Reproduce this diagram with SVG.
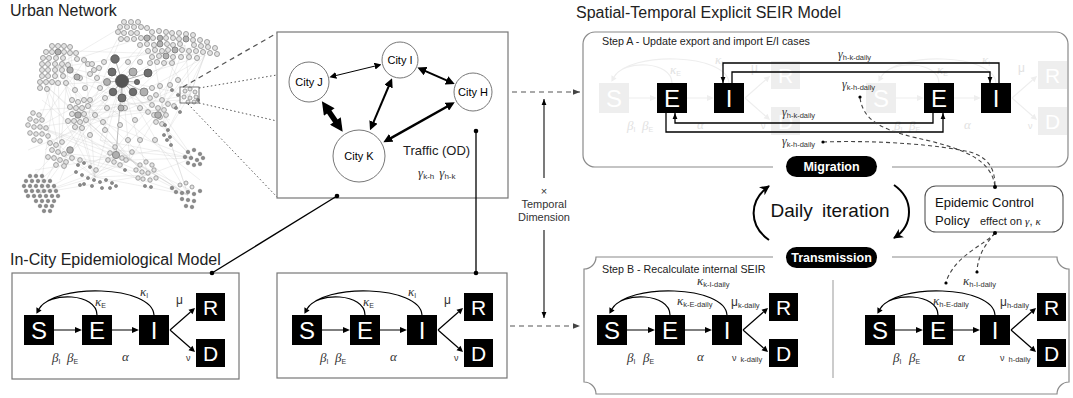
<svg xmlns="http://www.w3.org/2000/svg" width="1073" height="398" viewBox="0 0 1073 398">
<defs>
<style>
 text{font-family:"Liberation Sans",Arial,sans-serif}
 .ttl{font-size:16px;fill:#222}
 .g{font-family:"Liberation Serif","Times New Roman",serif;font-style:italic}
 .lt{fill:#fff;text-anchor:middle}
 .na{fill:#e2e2e2;stroke:#979797;stroke-width:.9}
 .nb{fill:#b0b0b0;stroke:#808080;stroke-width:.9}
 .nc{fill:#8a8a8a;stroke:#666;stroke-width:.5}
 .nd{fill:#6e6e6e;stroke:#505050;stroke-width:.8}
 .frame{fill:#fff;stroke:#777;stroke-width:1.2}
 .round{fill:none;stroke:#8a8a8a;stroke-width:1.2}
 .city{fill:#fff;stroke:#777;stroke-width:1}
 .dash{fill:none;stroke:#555;stroke-width:1.2;stroke-dasharray:5 4}
 .dotted{fill:none;stroke:#555;stroke-width:1;stroke-dasharray:1.5 2.5}
 .ln{fill:none;stroke:#000;stroke-width:1.3}
 .sub{font-size:7.5px}
</style>
<marker id="ah" viewBox="0 0 10 10" refX="10" refY="5" markerWidth="6" markerHeight="6" markerUnits="userSpaceOnUse" orient="auto"><path d="M0,1 L10,5 L0,9 z" fill="#000"/></marker>
<marker id="ahd" viewBox="0 0 10 10" refX="10" refY="5" markerWidth="7" markerHeight="7" markerUnits="userSpaceOnUse" orient="auto"><path d="M0,1 L10,5 L0,9 z" fill="#444"/></marker>
<marker id="ahc" viewBox="0 0 10 10" refX="9" refY="5" markerWidth="10" markerHeight="10" markerUnits="userSpaceOnUse" orient="auto"><path d="M0,0 L10,5 L0,10 L3,5 z" fill="#000"/></marker>
<marker id="cA" viewBox="0 0 10 10" refX="5" refY="5" markerWidth="7" markerHeight="7" markerUnits="userSpaceOnUse" orient="auto-start-reverse"><path d="M0,0 L10,5 L0,10 z" fill="#000"/></marker>
<marker id="cB" viewBox="0 0 10 10" refX="5" refY="5" markerWidth="9" markerHeight="9" markerUnits="userSpaceOnUse" orient="auto-start-reverse"><path d="M0,0 L10,5 L0,10 z" fill="#000"/></marker>
<marker id="cC" viewBox="0 0 10 10" refX="4" refY="5" markerWidth="15" markerHeight="13" markerUnits="userSpaceOnUse" orient="auto-start-reverse"><path d="M0,0 L10,5 L0,10 z" fill="#000"/></marker>

<!-- SEIR compartment chain; S box top-left at (0,0); colour via currentColor -->
<g id="seir">
  <g fill="currentColor">
    <rect x="0" y="0" width="30" height="30"/>
    <rect x="58" y="0" width="30" height="30"/>
    <rect x="115" y="0" width="30" height="30"/>
    <rect x="172" y="-22" width="29" height="28"/>
    <rect x="172" y="24" width="29" height="28"/>
  </g>
  <text class="lt" x="15" y="23.6" font-size="24">S</text>
  <text class="lt" x="73" y="23.6" font-size="24">E</text>
  <text class="lt" x="130" y="23.6" font-size="24">I</text>
  <text class="lt" x="186.5" y="-0.5" font-size="21">R</text>
  <text class="lt" x="186.5" y="45.5" font-size="21">D</text>
  <path d="M30,15H52 M88,15H109 M146,15L166.5,-3 M146,15L166.5,33 M73,0C73,-22 25,-24 15,-6 M130,0C128,-30 30,-32 15,-6" fill="none" stroke="currentColor" stroke-width="1.2"/>
  <path d="M58,15L51,12L51,18z M115,15L108,12L108,18z M171,-7L168.5,-0.75L164.5,-5.25z M171,37L164.5,35.25L168.5,30.75z M12.4,-1.2L17.6,-4.6L12.4,-7.8z" fill="currentColor"/>
</g>

<!-- rate labels of the basic in-city model -->
<g id="lab0" fill="currentColor">
  <text x="71" y="-9"><tspan class="g" font-size="13">κ</tspan><tspan font-size="7" dy="2">E</tspan></text>
  <text x="116" y="-19"><tspan class="g" font-size="13">κ</tspan><tspan font-size="7" dy="2">I</tspan></text>
  <text x="152" y="-11" font-size="12">μ</text>
  <text x="162" y="46" font-size="9">ν</text>
  <text x="28" y="47"><tspan class="g" font-size="13">β</tspan><tspan font-size="7" dy="2">I</tspan></text>
  <text x="43" y="47"><tspan class="g" font-size="13">β</tspan><tspan font-size="7" dy="2">E</tspan></text>
  <text x="98" y="46" class="g" font-size="13">α</text>
</g>
</defs>

<rect width="1073" height="398" fill="#fff"/>

<!-- titles -->
<text class="ttl" x="10" y="16">Urban Network</text>
<text class="ttl" x="10" y="265">In-City Epidemiological Model</text>
<text class="ttl" x="576" y="18">Spatial-Temporal Explicit SEIR Model</text>

<!-- urban network graph -->
<g id="urban-network">
  <path fill="none" stroke="#c0c0c0" stroke-width=".5" opacity=".5" d="M122 81L58 65M122 81L45 85M122 81L38 127M122 81L78 113M122 81L60 153M122 81L40 193M122 81L95 177M122 81L130 160M122 81L148 175M122 81L193 158M122 81L188 195M122 81L160 110M122 81L167 132M122 81L190 95M122 81L100 140M122 81L150 35M122 81L185 45M122 81L205 55M122 81L30 180M58 65L38 127M58 65L78 113M58 65L60 153M58 65L40 193M58 65L95 177M58 65L130 160M58 65L160 110M58 65L150 35M45 85L60 153M45 85L95 177M45 85L115 150M45 85L148 175M38 127L60 153M38 127L95 177M38 127L130 160M38 127L148 175M38 127L115 150M38 127L160 110M78 113L95 177M78 113L130 160M78 113L148 175M78 113L193 158M78 113L160 110M78 113L190 95M60 153L95 177M60 153L130 160M60 153L148 175M60 153L188 195M60 153L40 193M40 193L95 177M40 193L130 160M40 193L115 150M40 193L148 175M95 177L130 160M95 177L148 175M95 177L188 195M95 177L160 110M130 160L193 158M130 160L188 195M130 160L160 110M148 175L193 158M148 175L188 195M160 110L190 95M160 110L193 158M160 110L188 195M160 110L185 45M160 110L205 55M167 132L188 195M167 132L193 158M167 132L190 95M150 35L78 113M150 35L167 132M150 35L190 95M185 45L190 95M205 55L190 95M205 55L167 132M210 40L190 95M210 40L160 110M175 60L160 110M175 60L78 113M85 60L38 127M85 60L95 177M70 48L60 153M70 48L78 113M125 25L58 65M125 25L78 113M100 140L193 158M100 140L188 195M115 150L188 195M115 150L193 158M50 60L140 170M65 75L170 120M40 110L180 100M55 140L200 60M30 190L170 60M120 40L60 180M90 180L200 45M145 50L45 150M180 190L60 80M35 170L160 150M100 100L200 180M70 130L190 190M45 50L200 55M40 70L210 45M42 100L150 190M28 150L175 90"/>
  <path fill="none" stroke="#a8a8a8" stroke-width=".8" d="M122 81L115 59M122 81L112 72M122 81L133 72M122 81L148 73M122 81L113 92M122 81L122 98M122 81L133 92M122 81L144 92M122 81L137 82M122 81L107 82M122 81L116 155"/>
  <g class="na">
    <circle cx="124" cy="22" r="2.5"/><circle cx="131" cy="22" r="2.5"/><circle cx="138" cy="22" r="2.5"/>
    <circle cx="120" cy="27" r="2.5"/><circle cx="127" cy="27" r="2.5"/><circle cx="134" cy="27" r="2.5"/><circle cx="141" cy="27" r="2.5"/><circle cx="147" cy="28" r="2.5"/>
    <circle cx="118" cy="32" r="2.5"/><circle cx="124" cy="33" r="2.5"/><circle cx="131" cy="33" r="2.5"/><circle cx="137" cy="33" r="2.5"/><circle cx="152" cy="32" r="2.5"/><circle cx="159" cy="31" r="2.5"/><circle cx="166" cy="32" r="2.5"/><circle cx="172" cy="33" r="2.5"/><circle cx="179" cy="33" r="2.5"/><circle cx="186" cy="34" r="2.5"/><circle cx="193" cy="35" r="2.5"/>
    <circle cx="121" cy="39" r="2.5"/><circle cx="127" cy="39" r="2.5"/><circle cx="134" cy="39" r="2.5"/><circle cx="141" cy="38" r="2.5"/><circle cx="153" cy="38" r="2.5"/><circle cx="166" cy="38" r="2.5"/><circle cx="173" cy="38" r="2.5"/><circle cx="179" cy="39" r="2.5"/><circle cx="193" cy="40" r="2.5"/><circle cx="200" cy="40" r="2.5"/><circle cx="207" cy="42" r="2.5"/>
    <circle cx="140" cy="45" r="2.5"/><circle cx="147" cy="44" r="2.5"/><circle cx="154" cy="45" r="2.5"/><circle cx="167" cy="44" r="2.5"/><circle cx="173" cy="45" r="2.5"/><circle cx="180" cy="44" r="2.5"/><circle cx="194" cy="45" r="2.5"/><circle cx="201" cy="46" r="2.5"/><circle cx="208" cy="47" r="2.5"/><circle cx="215" cy="48" r="2.5"/>
    <circle cx="148" cy="51" r="2.5"/><circle cx="155" cy="50" r="2.5"/><circle cx="162" cy="51" r="2.5"/><circle cx="168" cy="50" r="2.5"/><circle cx="182" cy="50" r="2.5"/><circle cx="189" cy="51" r="2.5"/><circle cx="196" cy="51" r="2.5"/><circle cx="203" cy="52" r="2.5"/><circle cx="210" cy="53" r="2.5"/><circle cx="217" cy="54" r="2.5"/>
    <circle cx="152" cy="57" r="2.5"/><circle cx="159" cy="56" r="2.5"/><circle cx="173" cy="57" r="2.5"/><circle cx="181" cy="57" r="2.5"/><circle cx="189" cy="57" r="2.5"/><circle cx="197" cy="58" r="2.5"/>
    <circle cx="150" cy="63" r="2.5"/><circle cx="157" cy="62" r="2.5"/><circle cx="164" cy="63" r="2.5"/><circle cx="172" cy="63" r="2.5"/>
    <circle cx="52" cy="46" r="2.5"/><circle cx="58" cy="46" r="2.5"/><circle cx="64" cy="46" r="2.5"/><circle cx="70" cy="47" r="2.5"/>
    <circle cx="46" cy="52" r="2.5"/><circle cx="52" cy="52" r="2.5"/><circle cx="64" cy="52" r="2.5"/><circle cx="70" cy="53" r="2.5"/><circle cx="76" cy="53" r="2.5"/>
    <circle cx="43" cy="58" r="2.5"/><circle cx="49" cy="58" r="2.5"/><circle cx="56" cy="58" r="2.5"/><circle cx="63" cy="58" r="2.5"/><circle cx="77" cy="59" r="2.5"/><circle cx="84" cy="60" r="2.5"/>
    <circle cx="42" cy="64" r="2.5"/><circle cx="48" cy="64" r="2.5"/><circle cx="55" cy="64" r="2.5"/><circle cx="62" cy="64" r="2.5"/><circle cx="68" cy="65" r="2.5"/><circle cx="88" cy="64" r="2.5"/>
    <circle cx="42" cy="70" r="2.5"/><circle cx="48" cy="70" r="2.5"/><circle cx="55" cy="70" r="2.5"/><circle cx="62" cy="70" r="2.5"/><circle cx="94" cy="70" r="2.5"/>
    <circle cx="42" cy="76" r="2.5"/><circle cx="48" cy="76" r="2.5"/><circle cx="55" cy="76" r="2.5"/><circle cx="63" cy="76" r="2.5"/><circle cx="80" cy="78" r="2.5"/>
    <circle cx="40" cy="82" r="2.5"/><circle cx="46" cy="82" r="2.5"/><circle cx="52" cy="82" r="2.5"/><circle cx="58" cy="83" r="2.5"/><circle cx="66" cy="83" r="2.5"/>
    <circle cx="40" cy="88" r="2.5"/><circle cx="47" cy="89" r="2.5"/>
    <circle cx="92" cy="64" r="2.5"/><circle cx="99" cy="68" r="2.5"/><circle cx="104" cy="62" r="2.5"/><circle cx="90" cy="74" r="2.5"/><circle cx="97" cy="78" r="2.5"/><circle cx="128" cy="62" r="2.5"/><circle cx="140" cy="62" r="2.5"/><circle cx="100" cy="88" r="2.5"/><circle cx="105" cy="98" r="2.5"/>
    <circle cx="107" cy="108" r="2.5"/><circle cx="95" cy="115" r="2.5"/><circle cx="125" cy="108" r="2.5"/><circle cx="120" cy="125" r="2.5"/><circle cx="135" cy="120" r="2.5"/><circle cx="90" cy="100" r="2.5"/><circle cx="103" cy="122" r="2.5"/><circle cx="140" cy="108" r="2.5"/><circle cx="152" cy="88" r="2.5"/><circle cx="160" cy="86" r="2.5"/><circle cx="170" cy="85" r="2.5"/><circle cx="178" cy="80" r="2.5"/><circle cx="90" cy="135" r="2.5"/><circle cx="105" cy="130" r="2.5"/><circle cx="128" cy="140" r="2.5"/><circle cx="140" cy="140" r="2.5"/><circle cx="155" cy="140" r="2.5"/><circle cx="75" cy="90" r="2.5"/><circle cx="85" cy="88" r="2.5"/>
    <circle cx="72" cy="100" r="2.5"/><circle cx="78" cy="102" r="2.5"/><circle cx="84" cy="100" r="2.5"/><circle cx="70" cy="107" r="2.5"/><circle cx="76" cy="108" r="2.5"/><circle cx="82" cy="108" r="2.5"/><circle cx="88" cy="106" r="2.5"/><circle cx="72" cy="114" r="2.5"/><circle cx="84" cy="114" r="2.5"/><circle cx="68" cy="121" r="2.5"/><circle cx="74" cy="121" r="2.5"/><circle cx="80" cy="122" r="2.5"/><circle cx="86" cy="120" r="2.5"/><circle cx="75" cy="127" r="2.5"/><circle cx="82" cy="128" r="2.5"/>
    <circle cx="33" cy="113" r="2.3"/><circle cx="39" cy="115" r="2.3"/><circle cx="30" cy="119" r="2.3"/><circle cx="36" cy="121" r="2.3"/><circle cx="42" cy="120" r="2.3"/><circle cx="28" cy="125" r="2.3"/><circle cx="34" cy="127" r="2.3"/><circle cx="40" cy="127" r="2.3"/><circle cx="46" cy="128" r="2.3"/><circle cx="30" cy="133" r="2.3"/><circle cx="36" cy="134" r="2.3"/><circle cx="42" cy="134" r="2.3"/><circle cx="48" cy="136" r="2.3"/><circle cx="34" cy="140" r="2.3"/><circle cx="40" cy="141" r="2.3"/>
    <circle cx="50" cy="143" r="2.4"/><circle cx="56" cy="145" r="2.4"/><circle cx="62" cy="142" r="2.4"/><circle cx="52" cy="150" r="2.4"/><circle cx="58" cy="152" r="2.4"/><circle cx="64" cy="154" r="2.4"/><circle cx="48" cy="157" r="2.4"/><circle cx="54" cy="158" r="2.4"/><circle cx="60" cy="160" r="2.4"/><circle cx="66" cy="162" r="2.4"/><circle cx="72" cy="158" r="2.4"/><circle cx="56" cy="165" r="2.4"/><circle cx="64" cy="166" r="2.4"/>
    <circle cx="96" cy="170" r="2.3"/><circle cx="80" cy="160" r="2.3"/>
    <circle cx="115" cy="147" r="2.3"/><circle cx="110" cy="153" r="2.3"/><circle cx="122" cy="158" r="2.3"/><circle cx="108" cy="160" r="2.3"/><circle cx="114" cy="162" r="2.3"/><circle cx="120" cy="165" r="2.3"/><circle cx="126" cy="160" r="2.3"/><circle cx="132" cy="152" r="2.3"/>
    <circle cx="140" cy="165" r="2.2"/><circle cx="146" cy="162" r="2.2"/><circle cx="152" cy="165" r="2.2"/><circle cx="136" cy="170" r="2.2"/><circle cx="142" cy="172" r="2.2"/><circle cx="148" cy="173" r="2.2"/><circle cx="154" cy="170" r="2.2"/><circle cx="143" cy="179" r="2.2"/><circle cx="150" cy="180" r="2.2"/><circle cx="138" cy="178" r="2.2"/><circle cx="156" cy="178" r="2.2"/>
    <circle cx="180" cy="185" r="2"/><circle cx="186" cy="183" r="2"/><circle cx="192" cy="187" r="2"/>
    <circle cx="150" cy="98" r="2.4"/><circle cx="156" cy="95" r="2.4"/><circle cx="162" cy="100" r="2.4"/><circle cx="168" cy="104" r="2.4"/><circle cx="174" cy="106" r="2.4"/><circle cx="152" cy="105" r="2.4"/><circle cx="158" cy="108" r="2.4"/><circle cx="164" cy="110" r="2.4"/><circle cx="148" cy="112" r="2.4"/><circle cx="154" cy="115" r="2.4"/><circle cx="160" cy="117" r="2.4"/><circle cx="166" cy="115" r="2.4"/><circle cx="156" cy="122" r="2.4"/><circle cx="162" cy="124" r="2.4"/>
    <circle cx="185" cy="91" r="2"/><circle cx="190" cy="89" r="2"/><circle cx="195" cy="92" r="2"/><circle cx="184" cy="97" r="2"/><circle cx="190" cy="98" r="2"/><circle cx="196" cy="97" r="2"/><circle cx="188" cy="102" r="2"/><circle cx="194" cy="102" r="2"/>
  </g>
  <g class="nb">
    <circle cx="147" cy="38" r="3"/><circle cx="160" cy="44" r="3"/><circle cx="186" cy="39" r="3"/><circle cx="175" cy="50" r="3"/><circle cx="166" cy="56" r="3"/><circle cx="160" cy="38" r="2.8"/>
    <circle cx="58" cy="52" r="3"/><circle cx="70" cy="70" r="3.2"/><circle cx="77" cy="77" r="3"/>
    <circle cx="133" cy="72" r="4"/><circle cx="144" cy="92" r="4"/><circle cx="107" cy="82" r="3.5"/>
    <circle cx="78" cy="115" r="3.2"/><circle cx="70" cy="150" r="3.3"/><circle cx="116" cy="155" r="3.6"/><circle cx="158" cy="115" r="3.3"/><circle cx="121" cy="108" r="3"/>
  </g>
  <g class="nd">
    <circle cx="122" cy="81" r="6.5" fill="#555"/><circle cx="115" cy="59" r="4.2"/><circle cx="112" cy="72" r="4"/><circle cx="148" cy="73" r="4"/><circle cx="113" cy="92" r="3.8"/><circle cx="122" cy="98" r="4"/><circle cx="133" cy="92" r="3.8"/><circle cx="137" cy="82" r="2.6"/>
  </g>
  <g class="nc">
    <circle cx="30" cy="176" r="1.8"/><circle cx="36" cy="176" r="1.8"/><circle cx="42" cy="176" r="1.8"/>
    <circle cx="26" cy="181" r="1.8"/><circle cx="32" cy="181" r="1.8"/><circle cx="38" cy="181" r="1.8"/><circle cx="44" cy="181" r="1.8"/><circle cx="50" cy="181" r="1.8"/>
    <circle cx="24" cy="186" r="1.8"/><circle cx="30" cy="186" r="1.8"/><circle cx="36" cy="186" r="1.8"/><circle cx="42" cy="186" r="1.8"/><circle cx="48" cy="186" r="1.8"/><circle cx="54" cy="186" r="1.8"/>
    <circle cx="26" cy="191" r="1.8"/><circle cx="32" cy="191" r="1.8"/><circle cx="38" cy="191" r="1.8"/><circle cx="44" cy="191" r="1.8"/><circle cx="50" cy="191" r="1.8"/><circle cx="56" cy="191" r="1.8"/>
    <circle cx="28" cy="196" r="1.8"/><circle cx="34" cy="196" r="1.8"/><circle cx="40" cy="196" r="1.8"/><circle cx="46" cy="196" r="1.8"/><circle cx="52" cy="196" r="1.8"/><circle cx="58" cy="196" r="1.8"/>
    <circle cx="36" cy="201" r="1.8"/><circle cx="42" cy="201" r="1.8"/><circle cx="48" cy="201" r="1.8"/><circle cx="54" cy="201" r="1.8"/>
    <circle cx="40" cy="206" r="1.8"/><circle cx="46" cy="206" r="1.8"/><circle cx="52" cy="206" r="1.8"/><circle cx="44" cy="211" r="1.8"/><circle cx="50" cy="211" r="1.8"/>
    <circle cx="78" cy="165" r="1.6"/><circle cx="84" cy="163" r="1.6"/><circle cx="90" cy="167" r="1.6"/><circle cx="76" cy="172" r="1.6"/><circle cx="82" cy="175" r="1.6"/><circle cx="88" cy="178" r="1.6"/><circle cx="94" cy="180" r="1.6"/><circle cx="100" cy="182" r="1.6"/><circle cx="106" cy="180" r="1.6"/><circle cx="112" cy="183" r="1.6"/><circle cx="84" cy="184" r="1.6"/><circle cx="92" cy="186" r="1.6"/><circle cx="102" cy="188" r="1.6"/><circle cx="110" cy="188" r="1.6"/><circle cx="116" cy="186" r="1.6"/>
    <circle cx="145" cy="186" r="1.6"/><circle cx="151" cy="187" r="1.6"/>
    <circle cx="188" cy="152" r="1.8"/><circle cx="194" cy="150" r="1.8"/><circle cx="200" cy="154" r="1.8"/><circle cx="185" cy="157" r="1.8"/><circle cx="191" cy="158" r="1.8"/><circle cx="197" cy="160" r="1.8"/><circle cx="203" cy="158" r="1.8"/><circle cx="188" cy="163" r="1.8"/><circle cx="194" cy="165" r="1.8"/><circle cx="200" cy="164" r="1.8"/>
    <circle cx="176" cy="192" r="1.8"/><circle cx="182" cy="193" r="1.8"/><circle cx="188" cy="192" r="1.8"/><circle cx="194" cy="194" r="1.8"/><circle cx="200" cy="191" r="1.8"/><circle cx="182" cy="199" r="1.8"/><circle cx="188" cy="200" r="1.8"/><circle cx="194" cy="201" r="1.8"/><circle cx="186" cy="206" r="1.8"/><circle cx="192" cy="207" r="1.8"/><circle cx="172" cy="188" r="1.8"/>
    <circle cx="165" cy="125" r="1.6"/><circle cx="168" cy="130" r="1.6"/><circle cx="164" cy="135" r="1.6"/><circle cx="170" cy="137" r="1.6"/><circle cx="167" cy="140" r="1.6"/><circle cx="171" cy="145" r="1.6"/>
    <circle cx="198" cy="100" r="1.6"/><circle cx="176" cy="108" r="1.6"/><circle cx="180" cy="112" r="1.6"/><circle cx="178" cy="95" r="1.6"/><circle cx="172" cy="90" r="1.6"/><circle cx="80" cy="185" r="1.6"/><circle cx="125" cy="170" r="1.6"/>
  </g>
  <rect x="180" y="87" width="19" height="16" fill="none" stroke="#555" stroke-width=".8"/>
</g>

<!-- zoom-in leaders from the network to the city sub-graph -->
<g id="zoom-leaders">
  <path class="dash" d="M183,87 L277,33" stroke-width="1" stroke-dasharray="3 3"/>
  <path class="dotted" d="M199,88 L277,75"/>
  <path class="dotted" d="M199,103 L277,121"/>
  <path class="dotted" d="M188,104 L277,197"/>
</g>

<!-- city sub-graph -->
<g id="city-graph">
  <rect x="277" y="32" width="231" height="166" class="frame"/>
  <g id="city-j"><circle cx="309" cy="82" r="20" class="city"/><text x="309" y="86" font-size="11" text-anchor="middle">City J</text></g>
  <g id="city-i"><circle cx="400" cy="60" r="18" class="city"/><text x="400" y="64" font-size="11" text-anchor="middle">City I</text></g>
  <g id="city-h"><circle cx="473" cy="92" r="19" class="city"/><text x="473" y="96" font-size="11" text-anchor="middle">City H</text></g>
  <g id="city-k"><circle cx="359" cy="156" r="26" class="city"/><text x="359" y="160" font-size="11" text-anchor="middle">City K</text></g>
  <g id="city-links" stroke="#000" fill="none">
    <path d="M332.8,76.3 L378.1,65.3" stroke-width="1" marker-start="url(#cA)" marker-end="url(#cA)"/>
    <path d="M421.5,69.4 L450.6,82.2" stroke-width="2" marker-start="url(#cB)" marker-end="url(#cB)"/>
    <path d="M390.3,82.5 L371.8,126.1" stroke-width="2" marker-start="url(#cB)" marker-end="url(#cB)"/>
    <path d="M387.3,140.1 L450.8,104.5" stroke-width="2.5" marker-start="url(#cB)" marker-end="url(#cB)"/>
    <path d="M326.3,107.7 L338.3,125.3" stroke-width="5.5" marker-start="url(#cC)" marker-end="url(#cC)"/>
  </g>
  <text x="403" y="155" font-size="13" fill="#222">Traffic (OD)</text>
  <text x="418" y="177" fill="#333"><tspan class="g" font-size="13">γ</tspan><tspan font-size="8" dy="2">k-h</tspan><tspan class="g" font-size="13" dx="5" dy="-2">γ</tspan><tspan font-size="8" dy="2">h-k</tspan></text>
</g>

<!-- in-city model boxes -->
<g id="incity-model-1">
  <rect x="12" y="273" width="227" height="106" class="frame"/>
  <use href="#seir" x="24" y="315" style="color:#000"/>
  <use href="#lab0" x="24" y="315" style="color:#333"/>
</g>
<g id="incity-model-2">
  <rect x="277" y="273" width="230" height="105" class="frame"/>
  <use href="#seir" x="292" y="315" style="color:#000"/>
  <use href="#lab0" x="292" y="315" style="color:#333"/>
</g>

<!-- connectors -->
<g id="connectors">
  <path d="M337,196 L212,273" class="ln" stroke-width="1.5"/>
  <path d="M476,131 V273" class="ln" stroke-width="1.5"/>
  <circle cx="337" cy="196" r="2.3"/><circle cx="212" cy="273" r="2.3"/>
  <circle cx="476" cy="131" r="2.3"/><circle cx="476" cy="273" r="2.3"/>
  <path d="M512,92 H580" class="dash" marker-end="url(#ahd)"/>
  <path d="M510,326 H580" class="dash" marker-end="url(#ahd)"/>
  <path d="M544,178 V99" fill="none" stroke="#222" stroke-width="1.2" marker-end="url(#ah)"/>
  <path d="M544,230 V318" fill="none" stroke="#222" stroke-width="1.2" marker-end="url(#ah)"/>
  <text x="544" y="195" font-size="11" text-anchor="middle" fill="#333">×</text>
  <text x="544" y="208" font-size="11" text-anchor="middle" fill="#333">Temporal</text>
  <text x="544" y="221" font-size="11" text-anchor="middle" fill="#333">Dimension</text>
</g>

<!-- Step A: migration between cities -->
<g id="step-a">
  <path class="round" d="M773,167 H595 A12,12 0 0 1 583,155 V44 A12,12 0 0 1 595,32 H1056 A12,12 0 0 1 1068,44 V155 A12,12 0 0 1 1056,167 H892"/>
  <text x="602" y="45" font-size="10.7" fill="#222">Step A - Update export and import E/I cases</text>
  <use href="#seir" x="599" y="83" style="color:#eeeeee"/>
  <use href="#lab0" x="599" y="83" style="color:#e2e2e2"/>
  <use href="#seir" x="866" y="83" style="color:#eeeeee"/>
  <use href="#lab0" x="866" y="83" style="color:#e2e2e2"/>
  <g id="e-k"><rect x="657" y="83" width="30" height="30"/><text class="lt" x="672" y="106.6" font-size="24">E</text></g>
  <g id="i-k"><rect x="714" y="83" width="30" height="30"/><text class="lt" x="729" y="106.6" font-size="24">I</text></g>
  <g id="e-h"><rect x="924" y="83" width="30" height="30"/><text class="lt" x="939" y="106.6" font-size="24">E</text></g>
  <g id="i-h"><rect x="981" y="83" width="30" height="30"/><text class="lt" x="996" y="106.6" font-size="24">I</text></g>
  <path class="ln" d="M999,83 V63 H723 V83" marker-end="url(#ah)"/>
  <path class="ln" d="M732,83 V72 H990 V83" marker-end="url(#ah)"/>
  <path class="ln" d="M933,113 V123 H675 V113" marker-end="url(#ah)"/>
  <path class="ln" d="M666,113 V132 H943 V113" marker-end="url(#ah)"/>
  <g fill="#333">
    <text x="838" y="58"><tspan class="g" font-size="12">γ</tspan><tspan class="sub" dy="2">h-k-daily</tspan></text>
    <text x="842" y="88"><tspan class="g" font-size="12">γ</tspan><tspan class="sub" dy="2">k-h-daily</tspan></text>
    <text x="782" y="116"><tspan class="g" font-size="12">γ</tspan><tspan class="sub" dy="2">h-k-daily</tspan></text>
    <text x="782" y="145"><tspan class="g" font-size="12">γ</tspan><tspan class="sub" dy="2">k-h-daily</tspan></text>
  </g>
</g>

<!-- daily iteration cycle -->
<g id="migration">
  <rect x="786" y="156" width="91" height="21" rx="10.5" fill="#000"/>
  <text x="831.5" y="171" font-size="12.5" font-weight="bold" fill="#fff" text-anchor="middle">Migration</text>
</g>
<g id="transmission">
  <rect x="786" y="247" width="91" height="21" rx="10.5" fill="#000"/>
  <text x="831.5" y="262" font-size="12.5" font-weight="bold" fill="#fff" text-anchor="middle">Transmission</text>
</g>
<g id="daily-iteration">
  <text x="830" y="217" font-size="19" text-anchor="middle" word-spacing="4" fill="#111">Daily iteration</text>
  <path d="M769,240 C749,226 748,201 769,186" fill="none" stroke="#000" stroke-width="2" marker-end="url(#ahc)"/>
  <path d="M894,185 C914,199 914,225 894,238" fill="none" stroke="#000" stroke-width="2" marker-end="url(#ahc)"/>
</g>

<!-- control policy and its links -->
<g id="policy">
  <rect x="925" y="186" width="138" height="46" rx="11" fill="#fff" stroke="#555" stroke-width="1.1"/>
  <text x="935" y="207" font-size="13" fill="#111">Epidemic Control</text>
  <text x="935" y="225" font-size="13" fill="#111">Policy</text>
  <text x="980" y="225" font-size="11" fill="#222" font-family="Liberation Serif, serif">effect on <tspan class="g">γ</tspan>, <tspan class="g">κ</tspan></text>
</g>
<g id="policy-links" fill="none" stroke="#444" stroke-width="1.1" stroke-dasharray="4 3">
  <path d="M860,98 C864,125 890,132 930,141 C965,150 992,160 995,187"/>
  <path d="M823,142 C880,140 940,145 970,152 C990,158 995,170 995,187"/>
  <path d="M995,233 C985,245 955,255 946,282"/>
  <path d="M995,233 C985,245 978,255 977,271"/>
</g>
<g id="policy-dots" fill="#000">
  <circle cx="995" cy="187" r="2"/><circle cx="995" cy="233" r="2"/>
  <circle cx="860" cy="97" r="1.6"/><circle cx="823" cy="142" r="1.6"/>
  <circle cx="946" cy="283" r="1.6"/><circle cx="977" cy="272" r="1.6"/>
</g>

<!-- Step B: internal SEIR per city -->
<g id="step-b">
  <path class="round" d="M773,257 H596 A12,12 0 0 1 584,269 V382 A12,12 0 0 1 596,394 H1057 A12,12 0 0 1 1069,382 V269 A12,12 0 0 1 1057,257 H892"/>
  <text x="602" y="273" font-size="10.7" fill="#222">Step B - Recalculate internal SEIR</text>
  <path d="M833,280 V378" stroke="#999" stroke-width="1"/>
  <g id="seir-k">
    <use href="#seir" x="597" y="315" style="color:#000"/>
    <g fill="#333">
      <text x="697" y="285"><tspan class="g" font-size="13">κ</tspan><tspan class="sub" dy="2">k-I-daily</tspan></text>
      <text x="677" y="305"><tspan class="g" font-size="13">κ</tspan><tspan class="sub" dy="2">k-E-daily</tspan></text>
      <text x="731" y="306"><tspan font-size="12">μ</tspan><tspan class="sub" dy="2">k-daily</tspan></text>
      <text x="732" y="361"><tspan font-size="9">ν</tspan><tspan class="sub" dx="4" dy="1">k-daily</tspan></text>
      <text x="627" y="362"><tspan class="g" font-size="13">β</tspan><tspan font-size="7" dy="2">I</tspan></text>
      <text x="643" y="362"><tspan class="g" font-size="13">β</tspan><tspan font-size="7" dy="2">E</tspan></text>
      <text x="697" y="361" class="g" font-size="13">α</text>
    </g>
  </g>
  <g id="seir-h">
    <use href="#seir" x="865" y="315" style="color:#000"/>
    <g fill="#333">
      <text x="963" y="285"><tspan class="g" font-size="13">κ</tspan><tspan class="sub" dy="2">h-I-daily</tspan></text>
      <text x="933" y="305"><tspan class="g" font-size="13">κ</tspan><tspan class="sub" dy="2">h-E-daily</tspan></text>
      <text x="1000" y="306"><tspan font-size="12">μ</tspan><tspan class="sub" dy="2">h-daily</tspan></text>
      <text x="1000" y="361"><tspan font-size="9">ν</tspan><tspan class="sub" dx="4" dy="1">h-daily</tspan></text>
      <text x="893" y="362"><tspan class="g" font-size="13">β</tspan><tspan font-size="7" dy="2">I</tspan></text>
      <text x="909" y="362"><tspan class="g" font-size="13">β</tspan><tspan font-size="7" dy="2">E</tspan></text>
      <text x="958" y="361" class="g" font-size="13">α</text>
    </g>
  </g>
</g>
</svg>
